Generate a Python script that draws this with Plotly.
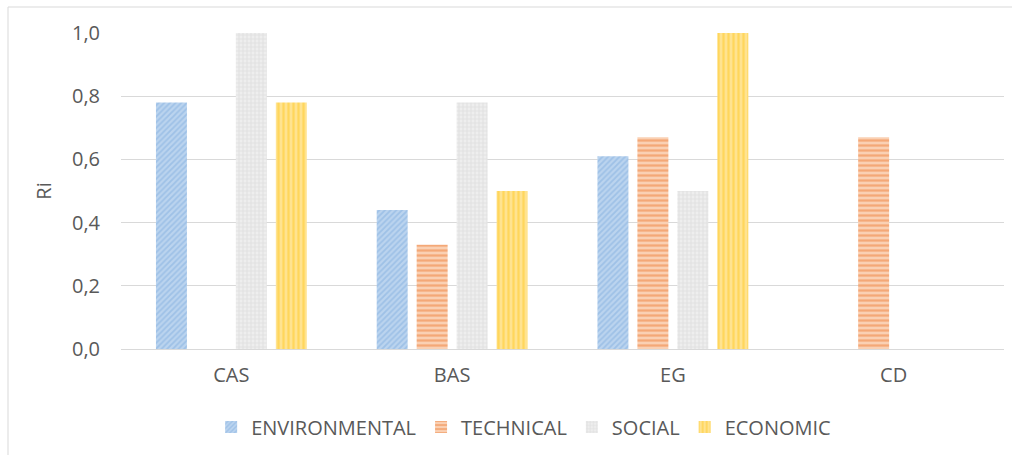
import plotly.graph_objects as go

categories = ["CAS", "BAS", "EG", "CD"]
environmental = [0.78, 0.44, 0.61, 0]
technical = [0, 0.33, 0.67, 0.67]
social = [1.0, 0.78, 0.50, 0]
economic = [0.78, 0.50, 1.0, 0]
tick_vals = [0, 0.2, 0.4, 0.6, 0.8, 1.0]

FONT = "'Open Sans', sans-serif"
TEXT = "#595959"
SIZE = 20

series = [
    ("ENVIRONMENTAL", environmental, "#BBD4EF", "#9EC1E7", "/", 4),
    ("TECHNICAL", technical, "#FAD0B3", "#F4A877", "-", 5),
    ("SOCIAL", social, "#EEEEEE", "#E2E2E2", "+", 4),
    ("ECONOMIC", economic, "#FFE390", "#FFD65C", "|", 5),
]

fig = go.Figure()
for name, vals, bg, fg, shape, size in series:
    fig.add_trace(go.Bar(
        name=name, x=categories, y=vals,
        marker=dict(
            color=bg,
            line=dict(width=0),
            pattern=dict(shape=shape, fgcolor=fg, bgcolor=bg, size=size,
                         solidity=0.45, fillmode="replace"),
        ),
    ))

fig.update_layout(
    width=1012, height=455,
    margin=dict(l=121, r=8, t=33, b=106),
    paper_bgcolor="white", plot_bgcolor="white",
    separators=",.",
    barmode="group", bargap=0.276, bargroupgap=0.225,
    font=dict(family=FONT, size=SIZE, color=TEXT),
    showlegend=True,
    legend=dict(orientation="h", x=0.456, xanchor="center", y=-0.247, yanchor="middle",
                font=dict(size=SIZE, color=TEXT), itemwidth=30, traceorder="normal"),
    xaxis=dict(showgrid=False, showline=True, linecolor="#D9D9D9", linewidth=1,
               ticks="", ticklabelstandoff=8, tickfont=dict(size=SIZE, color=TEXT)),
    yaxis=dict(range=[0, 1.0], tickvals=tick_vals, tickformat=".1f",
               showgrid=True, gridcolor="#D9D9D9", gridwidth=1,
               zeroline=False, showline=False, ticks="",
               ticklabelstandoff=20,
               title=dict(text="Ri", font=dict(size=SIZE, color=TEXT), standoff=14),
               tickfont=dict(size=SIZE, color=TEXT)),
    shapes=[dict(type="rect", xref="paper", yref="paper",
                 x0=-113 / 883, x1=1.2, y0=-1.3, y1=(349 - 7) / 316,
                 line=dict(color="#D9D9D9", width=1), layer="below")],
)

fig.write_html("out.html")
